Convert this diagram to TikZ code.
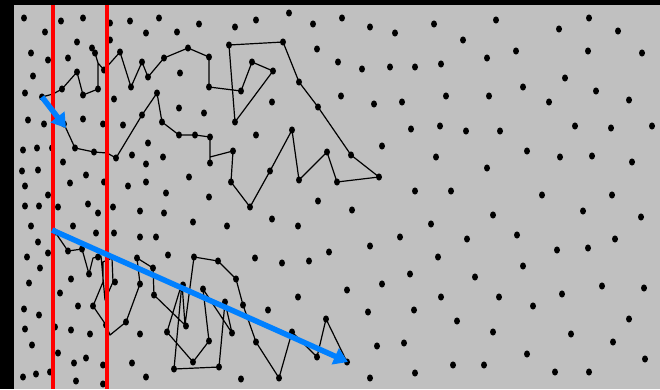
\documentclass[tikz,border=0pt]{standalone}
\usetikzlibrary{arrows.meta}
\usepackage{xcolor}
\definecolor{panel}{RGB}{192,192,192}
\definecolor{drift}{RGB}{0,128,255}
\tikzset{
  dot/.style={fill=black},
  walk/.style={draw=black, line width=1.2pt, line join=round},
  barrier/.style={draw=red, line width=3.3pt},
  net/.style={draw=drift, line width=5.5pt, -{Triangle[length=14pt,width=17pt]}}
}

\begin{document}
\begin{tikzpicture}[x=1pt, y=-1pt]
  \useasboundingbox (0,0) rectangle (660,389);
  % frame and field
  \fill[black] (0,0) rectangle (660,389);
  \fill[panel] (14,5) rectangle (660,389);

  % particles
  \foreach \x/\y in {24/18, 61/21, 83/18, 45/32, 77/42, 31/53, 48/60, 68/58, 33/76, 25/93, 42/97, 62/89,
    28/120, 44/124, 83/119, 23/150, 37/148, 52/148, 63/162, 22/171, 38/170, 25/186, 48/195, 70/183,
    25/206, 39/206, 58/207, 31/226, 73/226, 38/242, 48/253, 27/257, 40/268, 29/283, 60/293, 24/309,
    39/315, 25/329, 55/327, 32/345, 58/353, 23/377, 36/374, 50/372, 55/232, 68/251, 71/279, 78/306,
    71/330, 74/363, 76/381, 86/358,
    110/23, 110/40, 130/21, 146/33, 159/18, 177/32, 199/24, 92/48, 95/53, 104/70, 120/52, 142/62,
    148/77, 164/58, 188/48, 180/73, 209/57, 209/87, 77/72, 83/95, 98/89, 114/99, 131/87, 157/93,
    179/108, 142/115, 123/125, 103/124, 162/122, 75/148, 94/152, 116/158, 132/155, 148/143, 163/157,
    179/135, 195/135, 210/137, 210/163, 146/164, 86/175, 104/182, 128/186, 146/182, 166/193, 189/177,
    209/197, 88/204, 98/213, 113/207, 140/211, 164/213, 193/222, 96/233, 114/233, 140/237, 156/237,
    82/249, 98/257, 89/274, 115/282, 137/258, 153/268, 168/255, 194/257, 140/284, 154/295, 183/285,
    93/306, 106/325, 90/334, 126/322, 140/334, 167/332, 186/326, 103/365, 132/363, 146/377, 174/369,
    193/362, 103/384, 209/341, 204/113, 64/124,
    235/27, 256/20, 289/13, 313/24, 342/18, 370/27, 395/33, 229/45, 283/42, 317/49, 252/62, 273/71,
    338/62, 362/69, 390/67, 415/67, 241/91, 299/82, 341/96, 374/104, 402/102, 272/102, 318/107,
    235/122, 292/130, 411/129, 256/135, 233/151, 327/152, 351/155, 382/146, 270/171, 299/180,
    231/182, 337/182, 379/177, 415/191, 250/207, 318/201, 352/210, 227/226, 272/219, 298/226,
    203/289, 218/261, 255/258, 282/263, 309/261, 329/252, 370/246, 400/237, 236/279, 410/274,
    382/284, 347/290, 298/297, 225/302, 243/305, 268/310, 368/312, 414/310, 326/319, 232/333,
    256/342, 292/332, 377/346, 404/343, 317/357, 347/362, 219/367, 241/379, 279/378, 370/378, 415/373,
    434/24, 496/20, 559/29, 589/18, 618/31, 463/40, 516/51, 487/58, 588/51, 642/53, 441/64, 565/78,
    523/87, 596/91, 446/96, 489/96, 549/102, 629/100, 440/126, 466/131, 500/131, 575/126, 611/128,
    652/126, 436/157, 527/151, 560/157, 592/156, 632/162, 487/168, 451/191, 542/195, 612/195,
    493/215, 583/211, 641/217, 431/224, 467/239, 517/235, 557/250, 588/248, 615/239, 438/257,
    523/266, 475/277, 441/297, 499/297, 533/306, 562/294, 602/286, 644/288, 457/321, 493/332,
    571/334, 613/342, 629/319, 527/354, 645/359, 453/365, 484/365, 555/372, 589/372}
    \fill[dot] (\x,\y) ellipse [x radius=3, y radius=3.6];

  % upper walk
  \coordinate (up0) at (42,97);
  \coordinate (up1) at (66,128);
  \draw[walk] (up0) -- (53,94) -- (62,89) -- (77,72) -- (83,95) -- (98,89) -- (98,63) -- (95,53) -- (92,48)
    (98,63) -- (104,70) -- (120,52) -- (131,87) -- (142,62) -- (148,77) -- (164,58) -- (188,48)
    -- (209,57) -- (209,87) -- (241,91) -- (252,62) -- (273,71) -- (235,122) -- (229,45) -- (283,42)
    -- (299,82) -- (318,107) -- (351,155) -- (379,177) -- (337,182) -- (327,152) -- (299,180)
    -- (292,130) -- (270,171) -- (250,207) -- (231,182) -- (233,151) -- (210,157) -- (210,163)
    -- (210,137) -- (195,135) -- (179,135) -- (162,122) -- (157,93) -- (142,115) -- (116,158)
    -- (107,153) -- (94,152) -- (75,148) -- (64,124);

  % lower walk
  \coordinate (lo0) at (52,230);
  \coordinate (lo1) at (348,362);
  \draw[walk] (55,232) -- (68,251) -- (82,249) -- (89,274) -- (93,258) -- (101,256) -- (105,300)
    -- (113,282) -- (112,258) -- (103,262) -- (103,282) -- (93,306) -- (106,325) -- (110,335)
    -- (126,322) -- (140,284) -- (137,258) -- (153,268) -- (154,295) -- (185,325) -- (194,257)
    -- (218,261) -- (236,279) -- (243,305) -- (256,342) -- (279,378) -- (292,332) -- (317,357)
    -- (326,319) -- (347,362)
    (185,325) -- (182,283) -- (167,332) -- (193,362) -- (209,341) -- (203,289) -- (232,333)
    -- (225,302) -- (219,367) -- (174,369) -- (182,283);

  % barriers
  \draw[barrier] (53,5) -- (53,389);
  \draw[barrier] (107,5) -- (107,389);

  % net displacement
  \draw[net] (up0) -- (up1);
  \draw[net] (lo0) -- (lo1);
\end{tikzpicture}
\end{document}
